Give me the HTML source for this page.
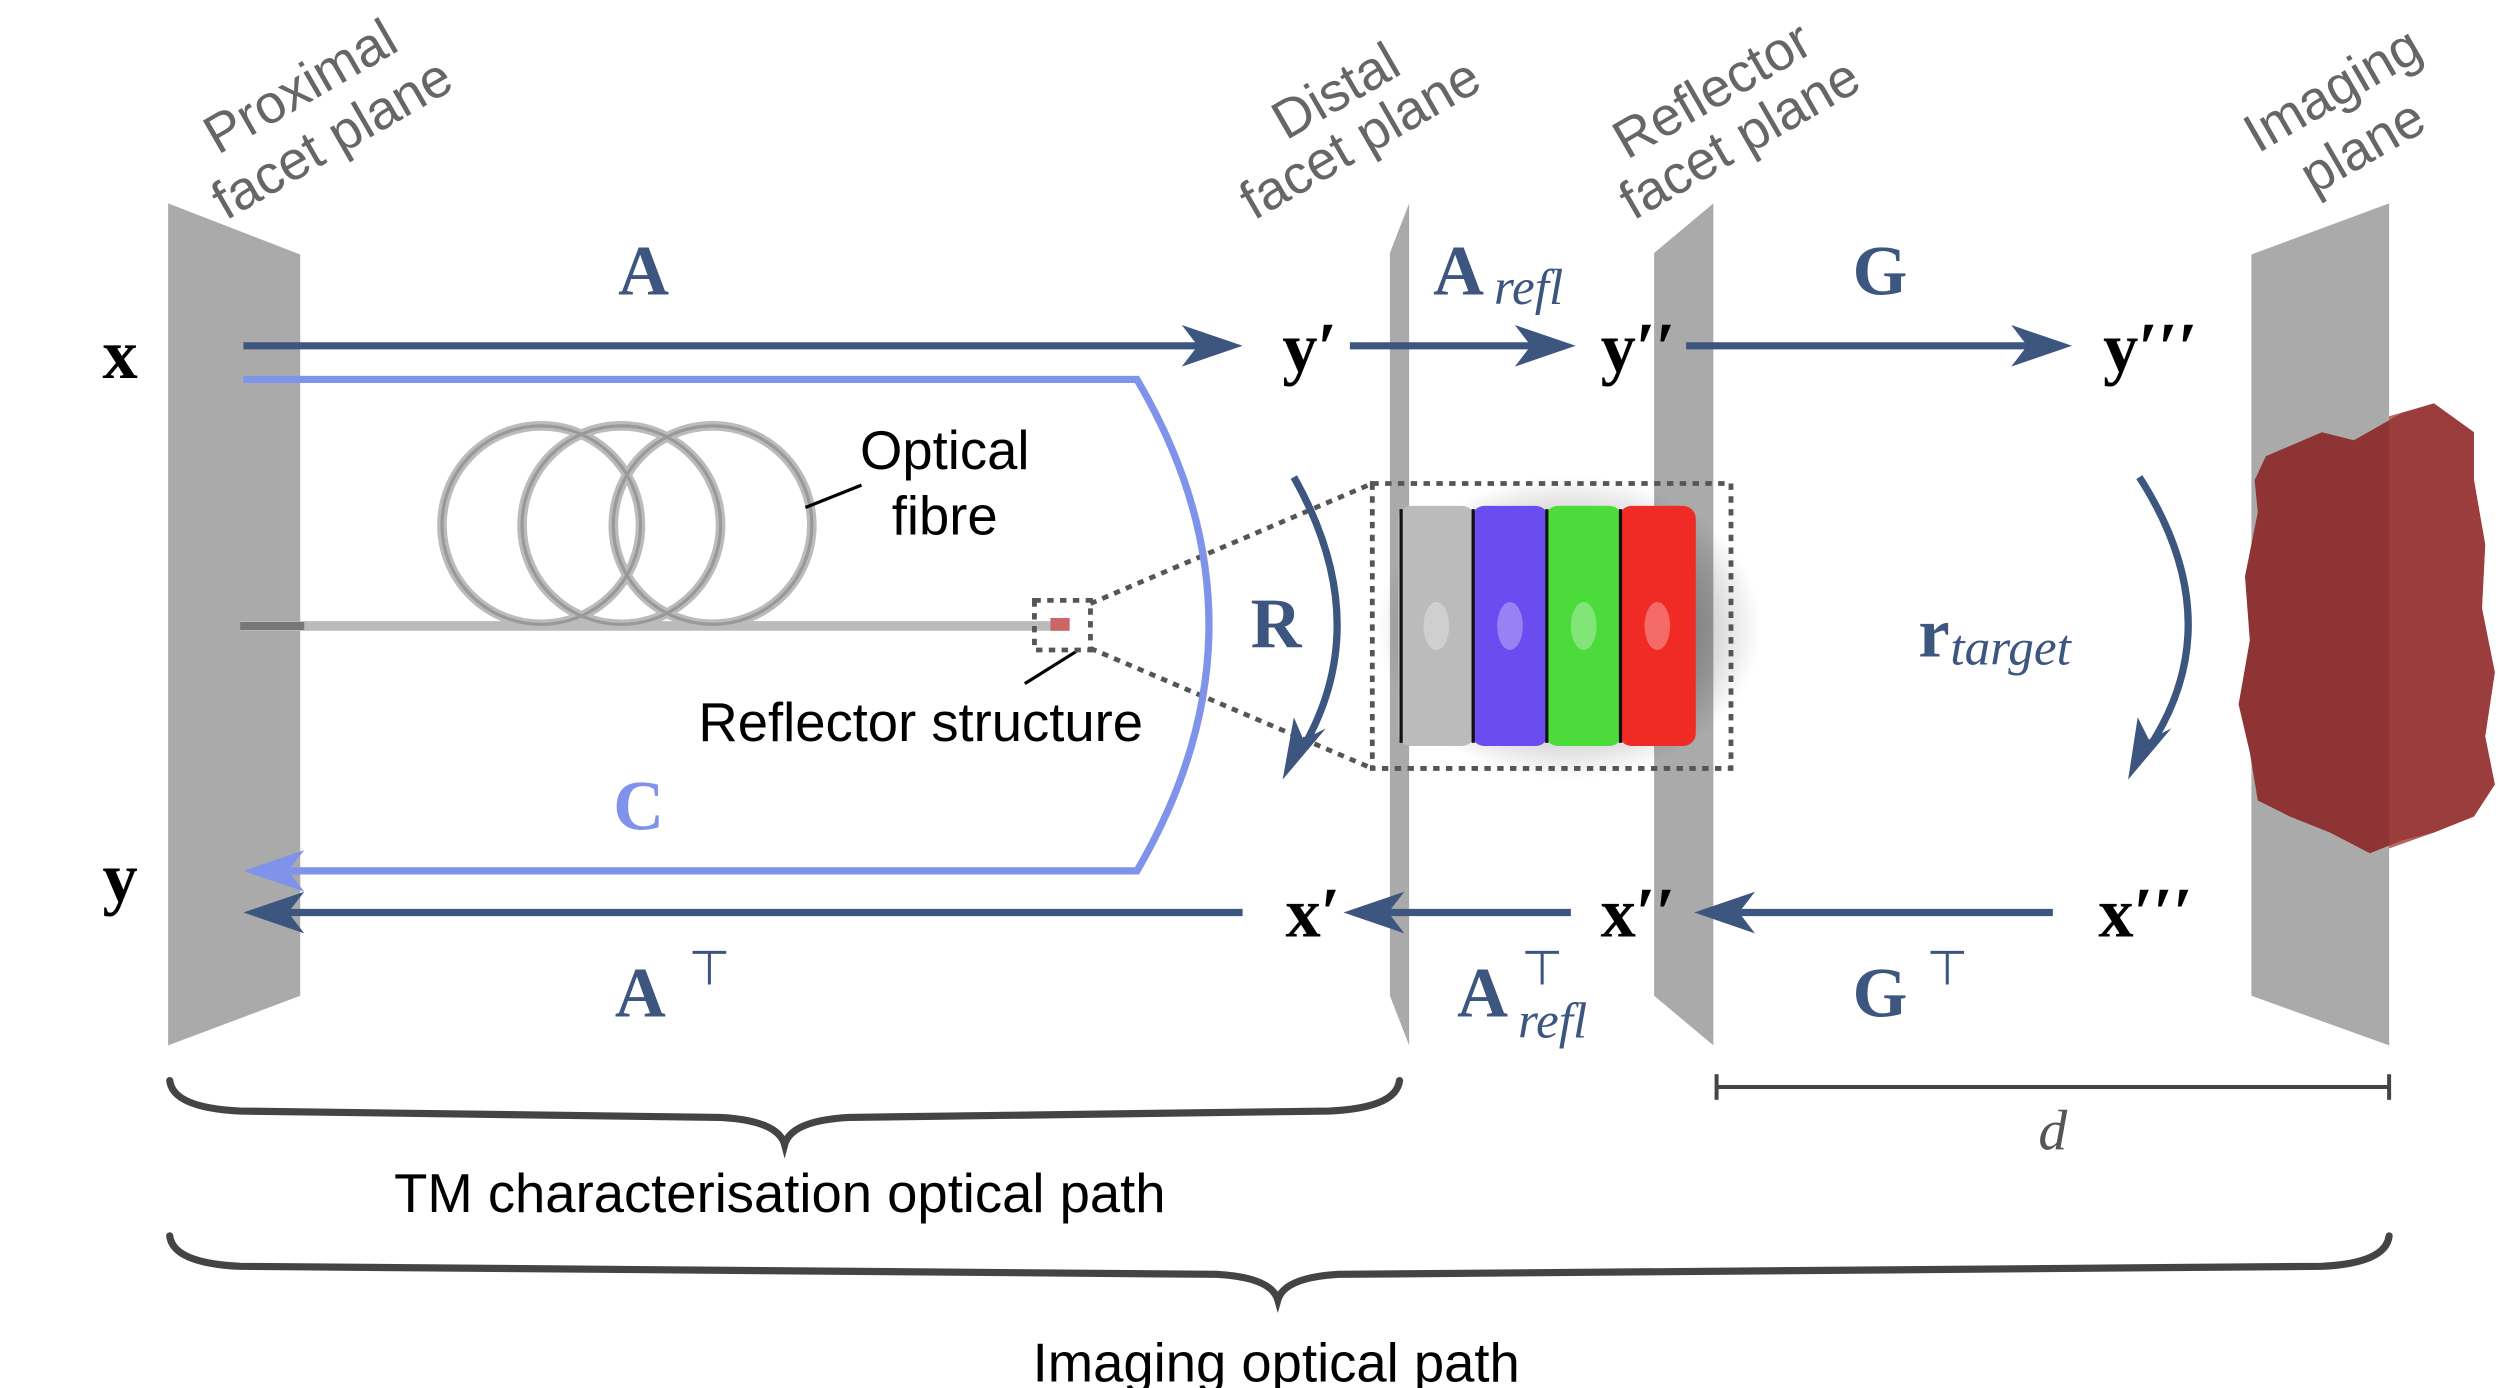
<!DOCTYPE html>
<html><head><meta charset="utf-8"><style>html,body{margin:0;padding:0;background:#fff}svg{display:block}</style></head><body>
<svg width="2498" height="1388" viewBox="0 0 1560 867" preserveAspectRatio="none" xmlns="http://www.w3.org/2000/svg">
<defs>
<radialGradient id="sh" cx="0.5" cy="0.5" r="0.5"><stop offset="0.6" stop-color="#000" stop-opacity="0.25"/><stop offset="1" stop-color="#000" stop-opacity="0"/></radialGradient>
</defs>
<polygon points="105,127 187.5,159 187.5,622 105,653" fill="#aaaaaa"/>
<polygon points="880,127 880,653 868,622 868,158" fill="#aaaaaa"/>
<polygon points="1033,158 1070,127 1070,653 1033,622" fill="#aaaaaa"/>
<polygon points="1406,159 1492,127 1492,653 1406,622" fill="#aaaaaa"/>
<g font-family="Liberation Sans, sans-serif" font-size="34" fill="#666">
<text transform="translate(136,97) rotate(-30)">Proximal</text>
<text transform="translate(141,138) rotate(-30)">facet plane</text>
<text transform="translate(803,88) rotate(-30)">Distal</text>
<text transform="translate(783,138) rotate(-30)">facet plane</text>
<text transform="translate(1016,100) rotate(-30)">Reflector</text>
<text transform="translate(1020,138) rotate(-30)">facet plane</text>
<text transform="translate(1410,96) rotate(-30)">Imaging</text>
<text transform="translate(1445,122) rotate(-30)">plane</text>
</g>
<g fill="none" stroke="#bbb" stroke-width="6">
<line x1="150" y1="391" x2="665" y2="391"/>
<ellipse cx="338" cy="328" rx="62" ry="62"/>
<ellipse cx="388" cy="328" rx="62" ry="62"/>
<ellipse cx="445" cy="328" rx="62" ry="62"/>
</g>
<g fill="none" stroke="#999" stroke-width="2">
<ellipse cx="338" cy="328" rx="62" ry="62"/>
<ellipse cx="388" cy="328" rx="62" ry="62"/>
<ellipse cx="445" cy="328" rx="62" ry="62"/>
</g>
<line x1="150" y1="391" x2="190" y2="391" stroke="#777" stroke-width="5"/>
<rect x="656" y="386" width="12" height="8" fill="#c66"/>
<g font-family="Liberation Sans, sans-serif" font-size="34" fill="#000" text-anchor="middle">
<text x="590" y="293">Optical</text>
<text x="590" y="334">fibre</text>
<text x="575" y="463">Reflector structure</text>
<text x="487" y="757">TM characterisation optical path</text>
<text x="797" y="863">Imaging optical path</text>
</g>
<line x1="503" y1="317" x2="538" y2="303" stroke="#000" stroke-width="2"/>
<line x1="640" y1="427" x2="672" y2="407" stroke="#000" stroke-width="2"/>
<g fill="none" stroke="#555" stroke-width="3" stroke-dasharray="4,4">
<rect x="646" y="375" width="35" height="31"/>
<line x1="681" y1="377" x2="857" y2="302"/>
<line x1="681" y1="405" x2="857" y2="480"/>
</g>
<ellipse cx="980" cy="392" rx="120" ry="95" fill="url(#sh)"/>
<rect x="873" y="316" width="48" height="150" rx="8" fill="#bbb"/>
<rect x="919" y="316" width="48" height="150" rx="8" fill="#6a4cf0"/>
<rect x="965" y="316" width="48" height="150" rx="8" fill="#4bdc3c"/>
<rect x="1011" y="316" width="48" height="150" rx="8" fill="#f02a24"/>
<g fill="#fff" opacity="0.3"><ellipse cx="897" cy="391" rx="8" ry="15"/><ellipse cx="943" cy="391" rx="8" ry="15"/><ellipse cx="989" cy="391" rx="8" ry="15"/><ellipse cx="1035" cy="391" rx="8" ry="15"/></g>
<g stroke="#111" stroke-width="2"><line x1="875" y1="318" x2="875" y2="464"/><line x1="920" y1="318" x2="920" y2="464"/><line x1="966" y1="318" x2="966" y2="464"/><line x1="1012" y1="318" x2="1012" y2="464"/></g>
<rect x="857" y="302" width="224" height="178" fill="none" stroke="#555" stroke-width="3" stroke-dasharray="4,4"/>
<polygon points="1415,285 1450,270 1470,275 1500,258 1520,252 1545,270 1545,300 1552,340 1550,380 1558,420 1552,460 1558,490 1545,510 1520,520 1500,525 1480,533 1455,520 1430,510 1410,500 1405,470 1398,440 1405,400 1402,360 1410,320 1408,300" fill="#8e3434"/>
<polygon points="1492,260 1520,252 1545,270 1545,300 1552,340 1550,380 1558,420 1552,460 1558,490 1545,510 1520,520 1492,530" fill="#a04040" opacity="0.8"/>
<path d="M152,237 L710,237 Q800,390 710,544 L170,544" fill="none" stroke="#7f93ea" stroke-width="4.5"/>
<path d="M152,544 L190,531 L180,544 L190,557 Z" fill="#7f93ea"/>
<g stroke="#3d5680" stroke-width="4.5" fill="none">
<line x1="152" y1="216" x2="760" y2="216"/>
<line x1="843" y1="216" x2="968" y2="216"/>
<line x1="1053" y1="216" x2="1278" y2="216"/>
<line x1="168" y1="570" x2="776" y2="570"/>
<line x1="855" y1="570" x2="981" y2="570"/>
<line x1="1075" y1="570" x2="1282" y2="570"/>
<path d="M808,298 Q860,390 812,470"/>
<path d="M1336,298 Q1395,390 1340,470"/>
</g>
<g fill="#3d5680">
<path d="M776,216 L738,203 L748,216 L738,229 Z"/>
<path d="M984,216 L946,203 L956,216 L946,229 Z"/>
<path d="M1294,216 L1256,203 L1266,216 L1256,229 Z"/>
<path d="M152,570 L190,557 L180,570 L190,583 Z"/>
<path d="M839,570 L877,557 L867,570 L877,583 Z"/>
<path d="M1058,570 L1096,557 L1086,570 L1096,583 Z"/>
<path d="M801,487 L808,448 L814,462 L828,455 Z"/>
<path d="M1329,487 L1335,448 L1342,462 L1356,455 Z"/>
</g>
<g font-family="Liberation Serif, serif" font-weight="bold" font-size="44" fill="#000" text-anchor="middle">
<text x="75" y="236">x</text>
<text x="75" y="563">y</text>
<text x="818" y="232">y′</text>
<text x="1023" y="232">y′′</text>
<text x="1343" y="232">y′′′</text>
<text x="820" y="585">x′</text>
<text x="1023" y="585">x′′</text>
<text x="1340" y="585">x′′′</text>
</g>
<g font-family="Liberation Serif, serif" font-weight="bold" font-size="44" fill="#3d5680">
<text x="386" y="184">A</text>
<text x="384" y="635">A</text>
<text x="430" y="615" font-weight="normal" font-size="30">⊤</text>
<text x="895" y="184">A</text>
<text x="933" y="190" font-weight="normal" font-style="italic" font-size="32">refl</text>
<text x="910" y="635">A</text>
<text x="950" y="615" font-weight="normal" font-size="30">⊤</text>
<text x="948" y="648" font-weight="normal" font-style="italic" font-size="32">refl</text>
<text x="1157" y="184">G</text>
<text x="1157" y="635">G</text>
<text x="1203" y="615" font-weight="normal" font-size="30">⊤</text>
<text x="781" y="404">R</text>
<text x="1198" y="410">r</text>
<text x="1218" y="415" font-weight="normal" font-style="italic" font-size="32">target</text>
<text x="383" y="518" fill="#7f93ea">C</text>
</g>
<g stroke="#444" stroke-width="2.5"><line x1="1072" y1="679" x2="1492" y2="679"/><line x1="1072" y1="671" x2="1072" y2="687"/><line x1="1492" y1="671" x2="1492" y2="687"/></g>
<text x="1282" y="718" font-family="Liberation Serif, serif" font-style="italic" font-size="36" fill="#555" text-anchor="middle">d</text>
<g fill="none" stroke="#444" stroke-width="4.5" stroke-linecap="round">
<path d="M106,675 Q108,692 150,694 L450,698 Q486,700 490,715 Q494,700 530,698 L830,694 Q872,692 874,675"/>
<path d="M106,772 Q108,789 150,791 L760,796 Q794,798 798,812 Q802,798 836,796 L1450,791 Q1490,789 1492,772"/>
</g>
</svg>
</body></html>
